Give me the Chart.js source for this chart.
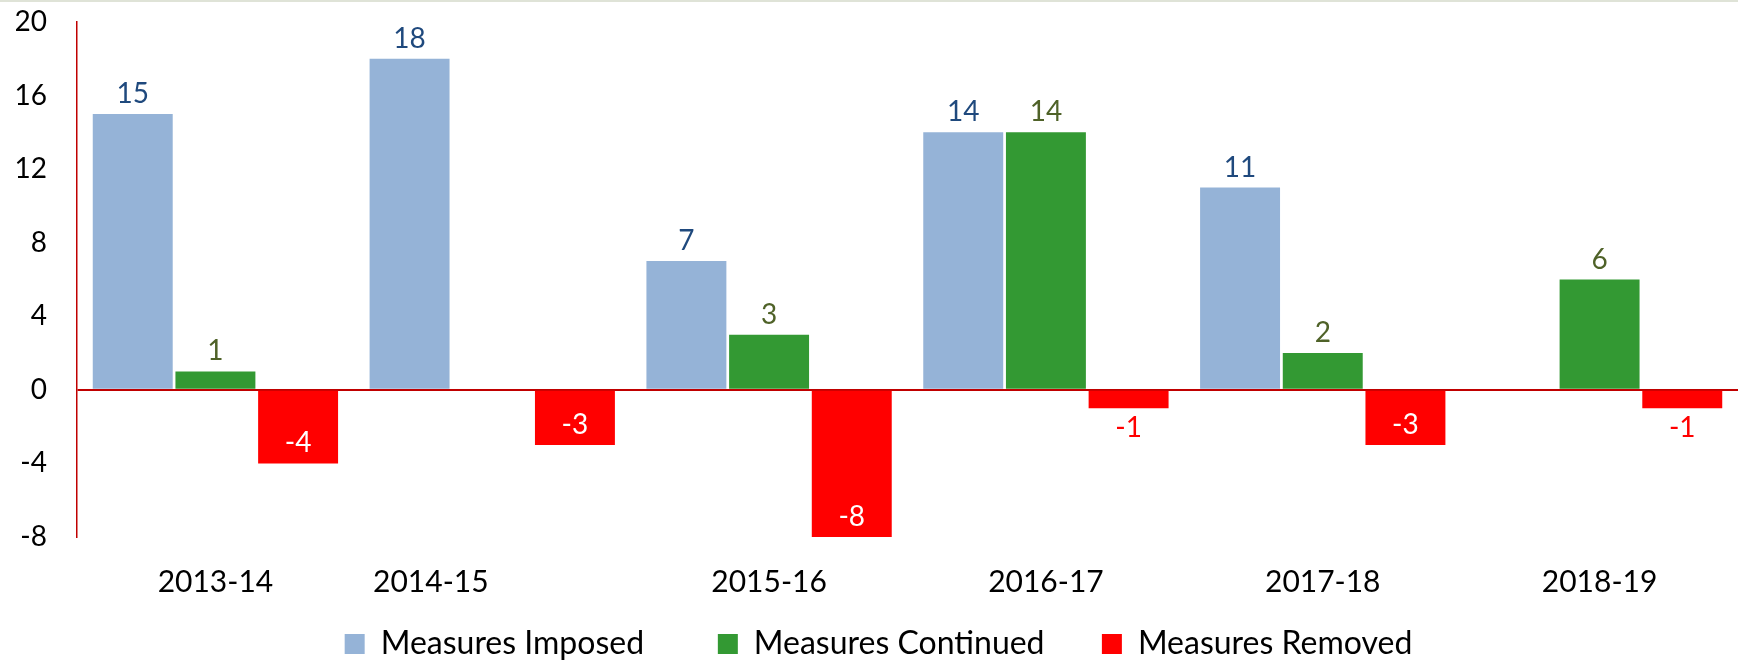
<!DOCTYPE html>
<html>
<head>
<meta charset="utf-8">
<title>Measures Imposed / Continued / Removed</title>
<script src="https://cdn.jsdelivr.net/npm/chart.js@4.4.0/dist/chart.umd.min.js"></script>
<style>
  html, body { margin: 0; padding: 0; background: #ffffff; overflow: hidden; }
  #wrap { position: relative; width: 1738px; height: 662px; }
</style>
</head>
<body>
<div id="wrap"><canvas id="measures-chart"></canvas></div>
<script>
// 연도별 조치 건수 데이터
var years = ['2013-14', '2014-15', '2015-16', '2016-17', '2017-18', '2018-19'];
var imposed = [15, 18, 7, 14, 11, null];
var continued = [1, null, 3, 14, 2, 6];
var removed = [-4, -3, -8, -1, -3, -1];
var yTicks = [20, 16, 12, 8, 4, 0, -4, -8];
var seriesNames = ['Measures Imposed', 'Measures Continued', 'Measures Removed'];

var FONT = 'Lato';
var axisRed = '#c00000';

// 범례 항목 사이 간격 (공백으로 넓힘)
var legendSpacers = ['         ', '       ', ''];

// 막대 위/아래 값 표시
var valueLabels = {
    id: 'valueLabels',
    afterDatasetsDraw: function(chart) {
        var ctx = chart.ctx;
        ctx.save();
        ctx.font = '28px ' + FONT;
        ctx.textAlign = 'center';
        ctx.textBaseline = 'middle';
        chart.data.datasets.forEach(function(ds, i) {
            var meta = chart.getDatasetMeta(i);
            meta.data.forEach(function(bar, j) {
                var v = ds.data[j];
                if (v === null || v === undefined) return;
                var y;
                var color = ds.labelColor;
                if (v >= 0) {
                    y = bar.y - 20;
                } else if (v <= -3) {
                    y = bar.y - 20; // 막대 안쪽
                    color = '#ffffff';
                } else {
                    y = bar.y + 20; // 막대 바깥쪽
                }
                ctx.fillStyle = color;
                ctx.fillText(String(v), bar.x, y);
            });
        });
        ctx.restore();
    }
};

// 상단 테두리 선
var topFrame = {
    id: 'topFrame',
    beforeDraw: function(chart) {
        var ctx = chart.ctx;
        ctx.save();
        ctx.fillStyle = '#dfe3d7';
        ctx.fillRect(0, 0, chart.width, 2);
        ctx.restore();
    }
};

var measuresChart = new Chart(document.getElementById('measures-chart'), {
    type: 'bar',
    data: {
        labels: years,
        datasets: [{
            label: seriesNames[0],
            data: imposed,
            backgroundColor: '#95b3d7',
            labelColor: '#1f497d',
            categoryPercentage: 0.896,
            barPercentage: 0.967
        }, {
            label: seriesNames[1],
            data: continued,
            backgroundColor: '#339933',
            labelColor: '#4f6228',
            categoryPercentage: 0.896,
            barPercentage: 0.967
        }, {
            label: seriesNames[2],
            data: removed,
            backgroundColor: '#ff0000',
            labelColor: '#ff0000',
            categoryPercentage: 0.896,
            barPercentage: 0.967
        }]
    },
    options: {
        responsive: true,
        maintainAspectRatio: false,
        animation: false,
        layout: {
            padding: { top: 22, left: 16, right: -3, bottom: -8 }
        },
        plugins: {
            tooltip: { enabled: false },
            legend: {
                position: 'bottom',
                labels: {
                    boxWidth: 20,
                    boxHeight: 20,
                    padding: 0,
                    color: '#000000',
                    font: { family: FONT, size: 32 },
                    generateLabels: function(chart) {
                        var items = Chart.defaults.plugins.legend.labels.generateLabels(chart);
                        items.forEach(function(item, i) {
                            item.lineWidth = 0;
                            item.text = item.text + legendSpacers[i];
                        });
                        return items;
                    }
                }
            }
        },
        scales: {
            x: {
                grid: { display: false },
                border: { display: false },
                ticks: {
                    color: '#000000',
                    font: { family: FONT, size: 30 },
                    padding: 19,
                    autoSkip: false,
                    maxRotation: 0,
                    callback: function(value, index) {
                        var t = years[index];
                        // 2014-15 레이블은 원본처럼 왼쪽으로 치우쳐 있음
                        return index === 1 ? t + '                ' : t;
                    }
                },
                afterFit: function(axis) {
                    axis.height = 91;
                }
            },
            y: {
                min: -8,
                max: 20,
                afterBuildTicks: function(axis) {
                    axis.ticks = yTicks.map(function(v) { return { value: v }; });
                },
                afterFit: function(axis) {
                    axis.width = 61;
                },
                border: { display: true, color: axisRed, width: 1.5 },
                grid: {
                    drawTicks: true,
                    tickLength: 26,
                    tickColor: 'rgba(0,0,0,0)',
                    lineWidth: 2,
                    color: function(ctx) {
                        return ctx.tick && ctx.tick.value === 0 ? axisRed : 'rgba(0,0,0,0)';
                    }
                },
                ticks: {
                    color: '#000000',
                    font: { family: FONT, size: 28 },
                    padding: 4
                }
            }
        }
    },
    plugins: [topFrame, valueLabels]
});
</script>
</body>
</html>
